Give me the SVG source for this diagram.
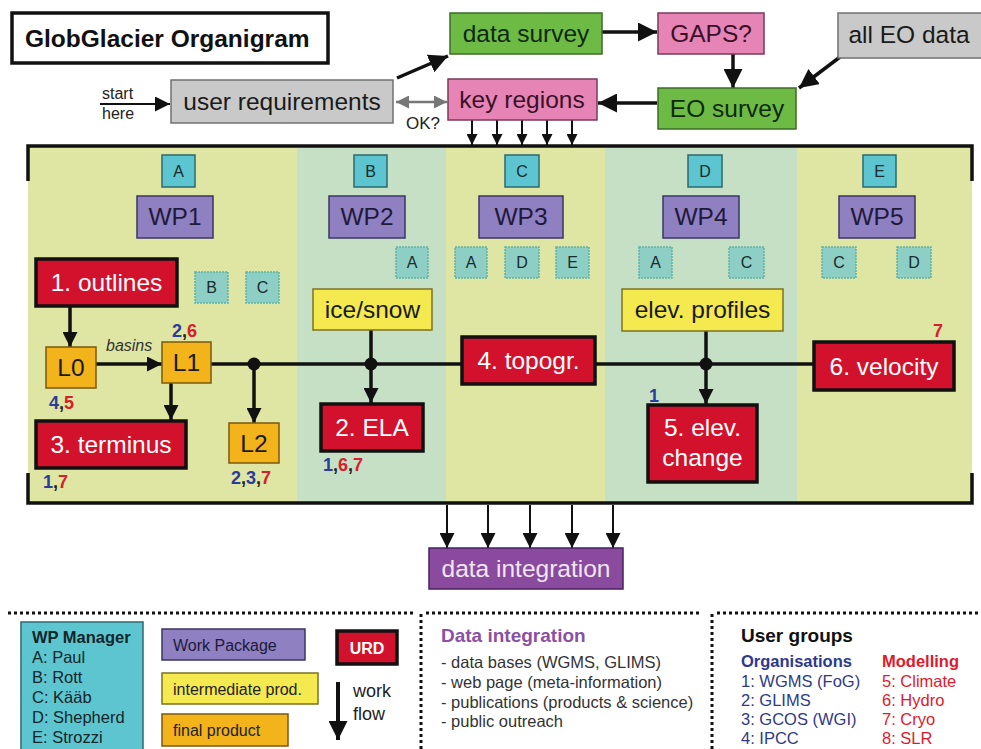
<svg xmlns="http://www.w3.org/2000/svg" width="981" height="749" viewBox="0 0 981 749">
<defs>
<style>
text{font-family:"Liberation Sans",Arial,sans-serif}
.big{font-size:24.5px;text-anchor:middle}
.mgr{fill:#5cc5cf;stroke:#2c6870;stroke-width:1.5}
.sec{fill:#8dcfc4;stroke:#5fb3a6;stroke-width:1.5;stroke-dasharray:2 1}
.let{font-size:16px;text-anchor:middle;fill:#1a2a2e}
.wp{fill:#8f80c2;stroke:#3d3566;stroke-width:1.5}
.wpt{fill:#1e1a3a}
.red{fill:#d2122c;stroke:#111;stroke-width:3.5}
.redt{fill:#fff}
.yel{fill:#f4e94e;stroke:#7d7222;stroke-width:1.5}
.org{fill:#f3b31b;stroke:#7a5a10;stroke-width:1.5}
.grn{fill:#6dbb45;stroke:#3d6b27;stroke-width:1.5}
.pnk{fill:#e685b5;stroke:#7a3a5a;stroke-width:1.5}
.gry{fill:#c9c9c9;stroke:#707070;stroke-width:1.5}
.dk{fill:#1a1a1a}
.ln{stroke:#111;stroke-width:3.5;fill:none}
.ln2{stroke:#111;stroke-width:2;fill:none}
.num{font-size:18px;font-weight:bold}
.b{fill:#2a3d9a}.r{fill:#d4202a}
.dot{stroke:#111;stroke-width:3;stroke-dasharray:3 3;fill:none}
.lg{font-size:16.5px}
</style>
<marker id="ah" viewBox="0 0 10 10" refX="10" refY="5" markerWidth="15" markerHeight="15" markerUnits="userSpaceOnUse" orient="auto"><path d="M0,0L10,5L0,10z" fill="#111"/></marker>
<marker id="ahb" viewBox="0 0 10 10" refX="10" refY="5" markerWidth="19" markerHeight="19" markerUnits="userSpaceOnUse" orient="auto"><path d="M0,0L10,5L0,10z" fill="#111"/></marker>
<marker id="ahs" viewBox="0 0 10 10" refX="10" refY="5" markerWidth="11" markerHeight="11" markerUnits="userSpaceOnUse" orient="auto"><path d="M0,0L10,5L0,10z" fill="#111"/></marker>
<marker id="ahg" viewBox="0 0 10 10" refX="10" refY="5" markerWidth="13" markerHeight="13" markerUnits="userSpaceOnUse" orient="auto-start-reverse"><path d="M0,0L10,5L0,10z" fill="#777"/></marker>
</defs>
<rect width="981" height="749" fill="#fff"/>

<!-- panel backgrounds -->
<g id="panel">
<rect x="28" y="146" width="269" height="357" fill="#dfe5a3"/>
<rect x="297" y="146" width="149" height="357" fill="#c5e0c5"/>
<rect x="446" y="146" width="159" height="357" fill="#dfe5a3"/>
<rect x="605" y="146" width="192" height="357" fill="#c5e0c5"/>
<rect x="797" y="146" width="175" height="357" fill="#dfe5a3"/>
<path class="ln" d="M28,181V146H972V181M28,473V503H972V473"/>
</g>

<!-- title -->
<g id="title">
<rect x="12" y="13" width="316" height="50" fill="#fff" stroke="#111" stroke-width="3.5"/>
<text x="25" y="47" font-size="24.5" font-weight="bold" fill="#111">GlobGlacier Organigram</text>
</g>

<!-- connectors -->
<g id="connectors">
<line class="ln2" x1="100" y1="104" x2="170" y2="104" marker-end="url(#ah)"/>
<line class="ln" stroke-width="4" x1="397" y1="78" x2="448" y2="56" marker-end="url(#ahb)"/>
<line class="ln" stroke-width="4" x1="602" y1="32" x2="657" y2="32" marker-end="url(#ahb)"/>
<line class="ln" stroke-width="4" x1="733" y1="54" x2="733" y2="88" marker-end="url(#ahb)"/>
<line class="ln" stroke-width="4" x1="840" y1="57" x2="799" y2="88" marker-end="url(#ahb)"/>
<line class="ln" stroke-width="4" x1="657" y1="103" x2="598" y2="103" marker-end="url(#ahb)"/>
<line stroke="#777" stroke-width="2.5" x1="396" y1="102" x2="447" y2="102" marker-start="url(#ahg)" marker-end="url(#ahg)"/>
<line class="ln2" x1="472" y1="120" x2="472" y2="145" marker-end="url(#ahs)"/>
<line class="ln2" x1="497" y1="120" x2="497" y2="145" marker-end="url(#ahs)"/>
<line class="ln2" x1="522" y1="120" x2="522" y2="145" marker-end="url(#ahs)"/>
<line class="ln2" x1="547" y1="120" x2="547" y2="145" marker-end="url(#ahs)"/>
<line class="ln2" x1="572" y1="120" x2="572" y2="145" marker-end="url(#ahs)"/>
<line class="ln2" x1="447" y1="505" x2="447" y2="548" marker-end="url(#ah)"/>
<line class="ln2" x1="488" y1="505" x2="488" y2="548" marker-end="url(#ah)"/>
<line class="ln2" x1="530" y1="505" x2="530" y2="548" marker-end="url(#ah)"/>
<line class="ln2" x1="572" y1="505" x2="572" y2="548" marker-end="url(#ah)"/>
<line class="ln2" x1="613" y1="505" x2="613" y2="548" marker-end="url(#ah)"/>
<line class="ln" x1="70" y1="306" x2="70" y2="347" marker-end="url(#ah)"/>
<line class="ln" x1="96" y1="364" x2="162" y2="364" marker-end="url(#ah)"/>
<line class="ln" x1="171" y1="383" x2="171" y2="420" marker-end="url(#ah)"/>
<line class="ln" x1="211" y1="364" x2="814" y2="364"/>
<line class="ln" x1="254" y1="364" x2="254" y2="423" marker-end="url(#ah)"/>
<line class="ln" x1="371" y1="330" x2="371" y2="403" marker-end="url(#ah)"/>
<line class="ln" x1="706" y1="331" x2="706" y2="404" marker-end="url(#ah)"/>
<circle cx="254" cy="364" r="6.5" fill="#111"/>
<circle cx="371" cy="364" r="6.5" fill="#111"/>
<circle cx="706" cy="364" r="6.5" fill="#111"/>
<line x1="338" y1="682" x2="338" y2="740" stroke="#111" stroke-width="4" marker-end="url(#ahb)"/>
</g>

<g id="start-here">
<text x="102" y="99" font-size="16" fill="#222">start</text>
<text x="102" y="119" font-size="16" fill="#222">here</text>
</g>
<g id="ok-label"><text x="406" y="129" font-size="17" fill="#222">OK?</text></g>

<!-- top nodes -->
<g id="user-requirements"><rect class="gry" x="171" y="80" width="222" height="43"/><text class="big dk" x="282" y="110">user requirements</text></g>
<g id="data-survey"><rect class="grn" x="450" y="13" width="152" height="41"/><text class="big" fill="#10290f" x="526" y="42">data survey</text></g>
<g id="gaps"><rect class="pnk" x="658" y="13" width="106" height="41"/><text class="big" fill="#3a1028" x="711" y="42">GAPS?</text></g>
<g id="all-eo-data"><rect class="gry" x="838" y="13" width="150" height="45"/><text class="big dk" x="909" y="43">all EO data</text></g>
<g id="key-regions"><rect class="pnk" x="448" y="79" width="149" height="41"/><text class="big" fill="#3a1028" x="522" y="108">key regions</text></g>
<g id="eo-survey"><rect class="grn" x="658" y="88" width="138" height="41"/><text class="big" fill="#10290f" x="727" y="117">EO survey</text></g>

<!-- managers -->
<g id="mgr-a"><rect class="mgr" x="162" y="155" width="33" height="32"/><text class="let" x="178.5" y="177">A</text></g>
<g id="mgr-b"><rect class="mgr" x="354" y="155" width="33" height="32"/><text class="let" x="370.5" y="177">B</text></g>
<g id="mgr-c"><rect class="mgr" x="505" y="155" width="34" height="32"/><text class="let" x="522" y="177">C</text></g>
<g id="mgr-d"><rect class="mgr" x="688" y="155" width="34" height="32"/><text class="let" x="705" y="177">D</text></g>
<g id="mgr-e"><rect class="mgr" x="863" y="155" width="33" height="32"/><text class="let" x="879.5" y="177">E</text></g>

<!-- work packages -->
<g id="wp1"><rect class="wp" x="137" y="196" width="76" height="42"/><text class="big wpt" x="175" y="225">WP1</text></g>
<g id="wp2"><rect class="wp" x="329" y="196" width="76" height="42"/><text class="big wpt" x="367" y="225">WP2</text></g>
<g id="wp3"><rect class="wp" x="479" y="196" width="84" height="42"/><text class="big wpt" x="521" y="225">WP3</text></g>
<g id="wp4"><rect class="wp" x="663" y="196" width="76" height="42"/><text class="big wpt" x="701" y="225">WP4</text></g>
<g id="wp5"><rect class="wp" x="839" y="196" width="76" height="42"/><text class="big wpt" x="877" y="225">WP5</text></g>

<!-- secondary contributors -->
<g id="wp1-b"><rect class="sec" x="195" y="272" width="33" height="31"/><text class="let" x="211.5" y="293">B</text></g>
<g id="wp1-c"><rect class="sec" x="246" y="272" width="33" height="31"/><text class="let" x="262.5" y="293">C</text></g>
<g id="wp2-a"><rect class="sec" x="396" y="247" width="32" height="31"/><text class="let" x="412" y="268">A</text></g>
<g id="wp3-a"><rect class="sec" x="455" y="247" width="32" height="31"/><text class="let" x="471" y="268">A</text></g>
<g id="wp3-d"><rect class="sec" x="505" y="247" width="34" height="31"/><text class="let" x="522" y="268">D</text></g>
<g id="wp3-e"><rect class="sec" x="556" y="247" width="33" height="31"/><text class="let" x="572.5" y="268">E</text></g>
<g id="wp4-a"><rect class="sec" x="639" y="247" width="33" height="31"/><text class="let" x="655.5" y="268">A</text></g>
<g id="wp4-c"><rect class="sec" x="729" y="247" width="35" height="31"/><text class="let" x="746.5" y="268">C</text></g>
<g id="wp5-c"><rect class="sec" x="822" y="247" width="34" height="31"/><text class="let" x="839" y="268">C</text></g>
<g id="wp5-d"><rect class="sec" x="897" y="247" width="34" height="31"/><text class="let" x="914" y="268">D</text></g>

<!-- products -->
<g id="outlines"><rect class="red" x="36" y="259" width="141" height="47"/><text class="big redt" x="106.5" y="291">1. outlines</text></g>
<g id="l0"><rect class="org" x="46" y="347" width="50" height="41"/><text class="big dk" x="71" y="376">L0</text><text class="num" x="49" y="409"><tspan class="b">4</tspan><tspan fill="#222">,</tspan><tspan class="r">5</tspan></text></g>
<g id="l1"><rect class="org" x="162" y="342" width="49" height="41"/><text class="big dk" x="186.5" y="371">L1</text><text class="num" x="172" y="337"><tspan class="b">2</tspan><tspan fill="#222">,</tspan><tspan class="r">6</tspan></text></g>
<g id="basins-label"><text x="106" y="351" font-size="16" font-style="italic" fill="#333">basins</text></g>
<g id="terminus"><rect class="red" x="36" y="421" width="150" height="47"/><text class="big redt" x="111" y="453">3. terminus</text><text class="num" x="43" y="488"><tspan class="b">1</tspan><tspan fill="#222">,</tspan><tspan class="r">7</tspan></text></g>
<g id="l2"><rect class="org" x="229" y="423" width="50" height="40"/><text class="big dk" x="254" y="452">L2</text><text class="num" x="231" y="484"><tspan class="b">2</tspan><tspan fill="#222">,</tspan><tspan class="b">3</tspan><tspan fill="#222">,</tspan><tspan class="r">7</tspan></text></g>
<g id="ice-snow"><rect class="yel" x="313" y="289" width="119" height="41"/><text class="big dk" x="372.5" y="318">ice/snow</text></g>
<g id="ela"><rect class="red" x="321" y="404" width="102" height="47"/><text class="big redt" x="372" y="436">2. ELA</text><text class="num" x="323" y="471"><tspan class="b">1</tspan><tspan fill="#222">,</tspan><tspan class="r">6</tspan><tspan fill="#222">,</tspan><tspan class="r">7</tspan></text></g>
<g id="topogr"><rect class="red" x="462" y="337" width="133" height="47"/><text class="big redt" x="528.5" y="369">4. topogr.</text></g>
<g id="elev-profiles"><rect class="yel" x="622" y="289" width="161" height="42"/><text class="big dk" x="702.5" y="318">elev. profiles</text></g>
<g id="elev-change"><rect class="red" x="648" y="405" width="109" height="77"/><text class="big redt" x="702.5" y="436">5. elev.</text><text class="big redt" x="702.5" y="466">change</text><text class="num b" x="649" y="402">1</text></g>
<g id="velocity"><rect class="red" x="814" y="342" width="140" height="48"/><text class="big redt" x="884" y="375">6. velocity</text><text class="num r" x="933" y="337">7</text></g>

<g id="data-integration"><rect x="429" y="548" width="194" height="41" fill="#8a4a9d" stroke="#4a2060" stroke-width="1.5"/><text class="big" fill="#f1e6f2" x="526" y="577">data integration</text></g>

<!-- legend -->
<g id="legend-frame">
<path class="dot" d="M8,613H413M421,614V749M426,613H700M712,614V749M717,613H981"/>
</g>
<g id="legend-managers">
<rect x="21" y="622" width="122" height="140" fill="#5cc5cf" stroke="#2c6870" stroke-width="1.5"/>
<text class="lg" x="32" y="643" font-weight="bold" fill="#14262a">WP Manager</text>
<text class="lg" x="32" y="663" fill="#14262a">A: Paul</text>
<text class="lg" x="32" y="683" fill="#14262a">B: Rott</text>
<text class="lg" x="32" y="703" fill="#14262a">C: Kääb</text>
<text class="lg" x="32" y="723" fill="#14262a">D: Shepherd</text>
<text class="lg" x="32" y="743" fill="#14262a">E: Strozzi</text>
</g>
<g id="legend-wp"><rect class="wp" x="162" y="629" width="143" height="31"/><text x="173" y="651" font-size="16" fill="#1e1a3a">Work Package</text></g>
<g id="legend-intermediate"><rect class="yel" x="162" y="673" width="156" height="31"/><text x="173" y="695" font-size="16" fill="#222">intermediate prod.</text></g>
<g id="legend-final"><rect class="org" x="162" y="714" width="126" height="32"/><text x="173" y="736" font-size="16" fill="#222">final product</text></g>
<g id="legend-urd"><rect class="red" x="337" y="631" width="60" height="33"/><text x="367" y="654" font-size="16" font-weight="bold" fill="#fff" text-anchor="middle">URD</text></g>
<g id="legend-workflow"><text x="353" y="697" font-size="18" fill="#222">work</text><text x="353" y="720" font-size="18" fill="#222">flow</text></g>
<g id="legend-data-integration">
<text x="441" y="642" font-size="19" font-weight="bold" fill="#8b4fa6">Data integration</text>
<text class="lg" x="441" y="668" fill="#333">- data bases (WGMS, GLIMS)</text>
<text class="lg" x="441" y="688" fill="#333">- web page (meta-information)</text>
<text class="lg" x="441" y="708" fill="#333">- publications (products &amp; science)</text>
<text class="lg" x="441" y="727" fill="#333">- public outreach</text>
</g>
<g id="legend-user-groups">
<text x="741" y="642" font-size="19" font-weight="bold" fill="#111">User groups</text>
<text x="741" y="667" font-size="16.5" font-weight="bold" fill="#2b3990">Organisations</text>
<text x="741" y="687" font-size="16.5" fill="#2e3a86">1: WGMS (FoG)</text>
<text x="741" y="706" font-size="16.5" fill="#2e3a86">2: GLIMS</text>
<text x="741" y="725" font-size="16.5" fill="#2e3a86">3: GCOS (WGI)</text>
<text x="741" y="744" font-size="16.5" fill="#2e3a86">4: IPCC</text>
<text x="882" y="667" font-size="16.5" font-weight="bold" fill="#e0192b">Modelling</text>
<text x="882" y="687" font-size="16.5" fill="#e0192b">5: Climate</text>
<text x="882" y="706" font-size="16.5" fill="#e0192b">6: Hydro</text>
<text x="882" y="725" font-size="16.5" fill="#e0192b">7: Cryo</text>
<text x="882" y="744" font-size="16.5" fill="#e0192b">8: SLR</text>
</g>
</svg>
